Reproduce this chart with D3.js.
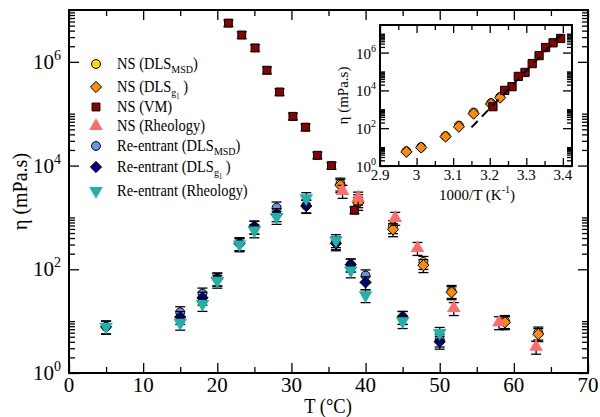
<!DOCTYPE html>
<html>
<head>
<meta charset="utf-8">
<script src="https://cdn.jsdelivr.net/npm/d3@7"></script>
<style>
  body { margin: 0; background: #fff; }
</style>
</head>
<body>
<div id="chart"></div>
<script>

// NS sample, DLS (MSD and g1)
var nsT = [36.6, 39.0, 43.7, 47.8, 51.6, 58.8, 63.3];
var nsMsd = [4470, 2140, 676, 138, 38, 10.0, 6.0];
var nsG1 = [4170, 1900, 590, 120, 36, 9.5, 5.6];

// NS sample, vibrating membrane
var vmT = [21.5, 23.3, 25.1, 26.7, 28.4, 30.2, 31.9, 33.5, 35.4, 38.5];
var vmEta = [5.6e6, 3.3e6, 1.86e6, 6.9e5, 2.63e5, 8.9e4, 5.5e4, 1.58e4, 1.0e4, 1.38e3];

// NS sample, rheology
var nsRheoT = [36.9, 39.0, 44.0, 47.0, 51.9, 58.0, 63.0];
var nsRheo = [3240, 2400, 977, 257, 17.8, 9.5, 3.2];

// Re-entrant sample
var reT = [5, 15, 18, 20, 23, 25, 28, 32, 36, 38, 40, 45, 50];
var reMsd = [7.8, 14.8, 33.9, 66, 316, 661, 1550, 1700, 331, 123, 76, 12.0, 4.4];
var reG1 = [7.8, 12.0, 28.2, 66, 316, 661, 1150, 1660, 316, 123, 56, 12.0, 4.0];
var reRheo = [7.8, 9.3, 21.4, 60, 302, 562, 1020, 2340, 363, 95, 31.6, 10.0, 5.9];

// relative error on eta
var errVm = 0.15;
var errOther = 0.28;

// Arrhenius fit shown in the inset (1000/T, eta)
var fitX = [3.15, 3.40];
var fitEta = [110, 1.1e7];

// tick values
var xTicks = [0, 10, 20, 30, 40, 50, 60, 70];
var xMinor = [5, 15, 25, 35, 45, 55, 65];
var yTicks = [1, 1e2, 1e4, 1e6];
var yExp = ['0', '2', '4', '6'];
var insetXTicks = [2.9, 3.0, 3.1, 3.2, 3.3, 3.4];
var insetXLabels = ['2.9', '3', '3.1', '3.2', '3.3', '3.4'];
var insetXMinor = [2.95, 3.05, 3.15, 3.25, 3.35];

var legendLabels = [
  [['NS (DLS', 0], ['MSD', 1], [')', 0]],
  [['NS (DLS', 0], ['g', 1], ['1', 2], [' )', 0]],
  [['NS (VM)', 0]],
  [['NS (Rheology)', 0]],
  [['Re-entrant (DLS', 0], ['MSD', 1], [')', 0]],
  [['Re-entrant (DLS', 0], ['g', 1], ['1', 2], [' )', 0]],
  [['Re-entrant (Rheology)', 0]]
];

var series = [
  { T: nsT, eta: nsMsd, err: errOther, shape: 'circle', fill: '#ffdd00', stroke: '#000' },
  { T: nsT, eta: nsG1, err: errOther, shape: 'diamond', fill: '#ff8c00', stroke: '#000' },
  { T: vmT, eta: vmEta, err: errVm, shape: 'square', fill: '#8b0000', stroke: '#000' },
  { T: nsRheoT, eta: nsRheo, err: errOther, shape: 'up', fill: '#ff6b6b', stroke: 'none' },
  { T: reT, eta: reMsd, err: errOther, shape: 'circle', fill: '#6495ed', stroke: '#000' },
  { T: reT, eta: reG1, err: errOther, shape: 'diamond', fill: '#000080', stroke: '#000' },
  { T: reT, eta: reRheo, err: errOther, shape: 'down', fill: '#20b2aa', stroke: 'none' }
];

var FONT = '"Liberation Serif", "Times New Roman", serif';

// minor ticks of the log axes: 2..10 x 10^even
function logMinor(maxExp) {
  var out = [];
  for (var e = 0; e < maxExp; e += 2) {
    for (var k = 2; k <= 10; k++) out.push(k * Math.pow(10, e));
  }
  return out;
}

function symbolPath(shape, scale) {
  scale = scale || 1;
  if (shape === 'diamond') {
    var r = 5.6 * scale;
    return 'M0,' + (-r) + 'L' + r + ',0L0,' + r + 'L' + (-r) + ',0Z';
  }
  if (shape === 'square') return d3.symbol(d3.symbolSquare, 62 * scale * scale)();
  if (shape === 'up' || shape === 'down') return d3.symbol(d3.symbolTriangle, 80 * scale * scale)();
  return d3.symbol(d3.symbolCircle, 62 * scale * scale)();
}

function drawSymbols(g, pts, s, scale) {
  g.selectAll(null)
      .data(pts)
      .enter()
    .append('path')
      .attr('d', symbolPath(s.shape, scale))
      .attr('transform', function (d) {
        return 'translate(' + d[0] + ',' + d[1] + ')' + (s.shape === 'down' ? ' rotate(180)' : '');
      })
      .attr('fill', s.fill)
      .attr('stroke', s.stroke)
      .attr('stroke-width', 1);
}

function addTicks(g, axisFn, scale, values, size, transform) {
  g.append('g')
      .attr('transform', transform)
      .call(axisFn(scale).tickValues(values).tickSize(-size).tickFormat(''))
      .call(function (s) { s.select('.domain').remove(); })
      .selectAll('line')
      .attr('stroke', '#000')
      .attr('stroke-width', 1.3);
}

function draw() {

  var svg = d3.select('#chart').append('svg')
      .attr('width', 600)
      .attr('height', 417)
      .style('font-family', FONT);

  // main plot
  var L = 69, R = 588, T = 10, B = 373;

  var x = d3.scaleLinear().domain([0, 70]).range([L, R]);
  var y = d3.scaleLog().domain([1, 1e7]).range([B, T]);

  var yMinor = logMinor(7);

  addTicks(svg, d3.axisBottom, x, xTicks, 10, 'translate(0,' + B + ')');
  addTicks(svg, d3.axisBottom, x, xMinor, 6, 'translate(0,' + B + ')');
  addTicks(svg, d3.axisTop, x, xTicks, 10, 'translate(0,' + T + ')');
  addTicks(svg, d3.axisTop, x, xMinor, 6, 'translate(0,' + T + ')');
  addTicks(svg, d3.axisLeft, y, yTicks, 10, 'translate(' + L + ',0)');
  addTicks(svg, d3.axisLeft, y, yMinor, 6, 'translate(' + L + ',0)');
  addTicks(svg, d3.axisRight, y, yTicks, 10, 'translate(' + R + ',0)');
  addTicks(svg, d3.axisRight, y, yMinor, 6, 'translate(' + R + ',0)');

  svg.append('rect')
      .attr('x', L).attr('y', T)
      .attr('width', R - L).attr('height', B - T)
      .attr('fill', 'none')
      .attr('stroke', '#000')
      .attr('stroke-width', 2);

  // tick labels
  svg.selectAll('.xlab')
      .data(xTicks)
      .enter()
    .append('text')
      .attr('x', function (d) { return x(d); })
      .attr('y', 392)
      .attr('text-anchor', 'middle')
      .attr('font-size', 21)
      .text(function (d) { return d; });

  var ylab = svg.selectAll('.ylab')
      .data(yTicks)
      .enter()
    .append('text')
      .attr('x', 61)
      .attr('y', function (d) { return y(d) + 7; })
      .attr('text-anchor', 'end')
      .attr('font-size', 21);
  ylab.append('tspan').text('10');
  ylab.append('tspan')
      .attr('font-size', 14)
      .attr('dy', -9)
      .text(function (d, i) { return yExp[i]; });

  // axis titles
  svg.append('text')
      .attr('transform', 'translate(328,413) scale(1,1.12)')
      .attr('text-anchor', 'middle')
      .attr('font-size', 18.5)
      .text('T (\u00B0C)');

  svg.append('text')
      .attr('transform', 'translate(27,' + ((T + B) / 2) + ') rotate(-90)')
      .attr('text-anchor', 'middle')
      .attr('font-size', 20)
      .text('\u03B7 (mPa.s)');

  // data with error bars
  series.forEach(function (s) {
    var g = svg.append('g');
    var pts = s.T.map(function (t, i) { return [x(t), y(s.eta[i]), s.eta[i]]; });

    var eb = g.selectAll(null).data(pts).enter().append('g')
        .attr('stroke', '#000')
        .attr('stroke-width', 1.3);
    eb.append('line')
        .attr('x1', function (d) { return d[0]; })
        .attr('x2', function (d) { return d[0]; })
        .attr('y1', function (d) { return y(d[2] * (1 + s.err)); })
        .attr('y2', function (d) { return y(d[2] * (1 - s.err)); });
    [1 + s.err, 1 - s.err].forEach(function (f) {
      eb.append('line')
          .attr('x1', function (d) { return d[0] - 5; })
          .attr('x2', function (d) { return d[0] + 5; })
          .attr('y1', function (d) { return y(d[2] * f); })
          .attr('y2', function (d) { return y(d[2] * f); });
    });

    drawSymbols(g, pts, s, 1);
  });

  // legend
  var legendY = [64, 87, 107, 126, 146, 167, 191];
  var subSize = [14.5, 10, 6.5];
  var subOff = [0, 4, 6];

  series.forEach(function (s, i) {
    var g = svg.append('g');
    drawSymbols(g, [[96, legendY[i]]], s, 1);

    var txt = svg.append('text')
        .attr('transform', 'translate(117,' + (legendY[i] + 5) + ') scale(1,1.12)')
        .attr('font-size', 14.5);
    var prev = 0;
    legendLabels[i].forEach(function (p) {
      txt.append('tspan')
          .attr('font-size', subSize[p[1]])
          .attr('dy', subOff[p[1]] - prev)
          .text(p[0]);
      prev = subOff[p[1]];
    });
  });

  // inset
  var iL = 380, iR = 572, iT = 25, iB = 166;

  var ix = d3.scaleLinear().domain([2.9, 3.425]).range([iL, iR]);
  var iy = d3.scaleLog().domain([1, Math.pow(10, 7.46)]).range([iB, iT]);

  svg.append('rect')
      .attr('x', iL).attr('y', iT)
      .attr('width', iR - iL).attr('height', iB - iT)
      .attr('fill', '#fff');

  addTicks(svg, d3.axisBottom, ix, insetXTicks, 8, 'translate(0,' + iB + ')');
  addTicks(svg, d3.axisBottom, ix, insetXMinor, 5, 'translate(0,' + iB + ')');
  addTicks(svg, d3.axisTop, ix, insetXTicks, 8, 'translate(0,' + iT + ')');
  addTicks(svg, d3.axisTop, ix, insetXMinor, 5, 'translate(0,' + iT + ')');
  addTicks(svg, d3.axisLeft, iy, yTicks, 9, 'translate(' + iL + ',0)');
  addTicks(svg, d3.axisLeft, iy, yMinor, 5, 'translate(' + iL + ',0)');
  addTicks(svg, d3.axisRight, iy, yTicks, 9, 'translate(' + iR + ',0)');
  addTicks(svg, d3.axisRight, iy, yMinor, 5, 'translate(' + iR + ',0)');

  svg.append('rect')
      .attr('x', iL).attr('y', iT)
      .attr('width', iR - iL).attr('height', iB - iT)
      .attr('fill', 'none')
      .attr('stroke', '#000')
      .attr('stroke-width', 2);

  svg.selectAll('.ixlab')
      .data(insetXTicks)
      .enter()
    .append('text')
      .attr('x', function (d) { return ix(d); })
      .attr('y', 180)
      .attr('text-anchor', 'middle')
      .attr('font-size', 15)
      .text(function (d, i) { return insetXLabels[i]; });

  var iylab = svg.selectAll('.iylab')
      .data(yTicks)
      .enter()
    .append('text')
      .attr('x', 376)
      .attr('y', function (d) { return iy(d) + 6; })
      .attr('text-anchor', 'end')
      .attr('font-size', 15);
  iylab.append('tspan').text('10');
  iylab.append('tspan')
      .attr('font-size', 10)
      .attr('dy', -7)
      .text(function (d, i) { return yExp[i]; });

  var ixt = svg.append('text')
      .attr('x', 477).attr('y', 200)
      .attr('text-anchor', 'middle')
      .attr('font-size', 15);
  ixt.append('tspan').text('1000/T (K');
  ixt.append('tspan').attr('font-size', 10).attr('dy', -7).text('-1');
  ixt.append('tspan').attr('dy', 7).text(')');

  svg.append('text')
      .attr('transform', 'translate(348,' + ((iT + iB) / 2) + ') rotate(-90)')
      .attr('text-anchor', 'middle')
      .attr('font-size', 15)
      .text('\u03B7 (mPa.s)');

  var invT = function (t) { return 1000 / (t + 273.15); };

  series.slice(0, 3).forEach(function (s) {
    var g = svg.append('g');
    var pts = s.T.map(function (t, i) { return [ix(invT(t)), iy(s.eta[i])]; });
    drawSymbols(g, pts, s, s.shape === 'square' ? 1.05 : 1);
  });

  svg.append('path')
      .datum(fitX.map(function (v, i) { return [v, fitEta[i]]; }))
      .attr('d', d3.line()
        .x(function (d) { return ix(d[0]); })
        .y(function (d) { return iy(d[1]); }))
      .attr('fill', 'none')
      .attr('stroke', '#000')
      .attr('stroke-width', 2)
      .attr('stroke-dasharray', '9,6');
}

draw();
</script>
</body>
</html>
